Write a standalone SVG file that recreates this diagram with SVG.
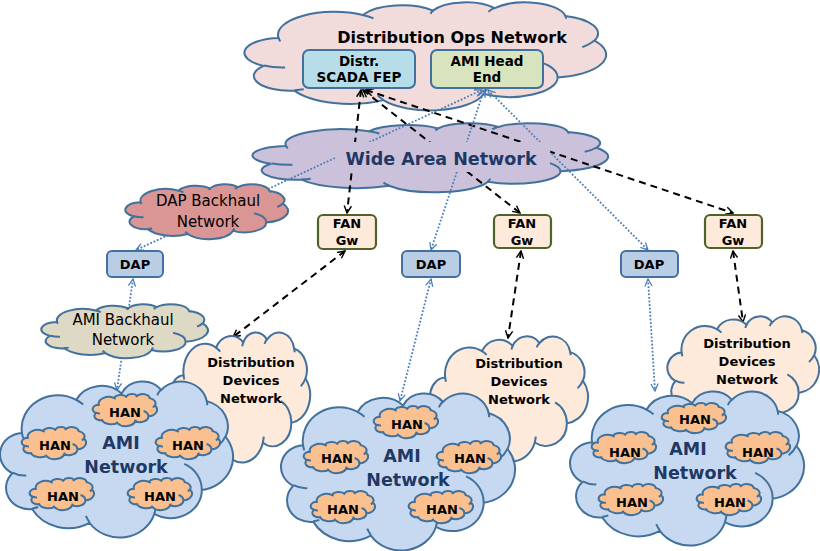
<svg xmlns="http://www.w3.org/2000/svg" width="820" height="551" viewBox="0 0 820 551">
<style>
text{font-family:"DejaVu Sans","Liberation Sans",sans-serif;text-anchor:middle;fill:#000}
.b13{font-size:13px;font-weight:bold}
.b135{font-size:13.5px;font-weight:bold}
.ttl{font-size:16px;font-weight:bold}
.nav{font-size:17.5px;font-weight:bold;fill:#1f3864}
.bh{font-size:15px}
.box{stroke:#41719c;stroke-width:2}
.fan{fill:#fdeada;stroke:#4f6228;stroke-width:2.2}
.dash{fill:none;stroke:#000;stroke-width:2;stroke-dasharray:7 5;marker-start:url(#ak);marker-end:url(#ak)}
.dot{fill:none;stroke:#4a7ebb;stroke-width:1.8;stroke-dasharray:1.8 1.8;marker-start:url(#ab);marker-end:url(#ab)}
</style>
<defs>
<symbol id="cloud" viewBox="0 0 100 100" preserveAspectRatio="none" overflow="visible">
<path d="M9.03,33.26 A15.63,21.27 0 0 1 32.42,12.04 A12.34,16.82 0 0 1 51.98,7.94 A10.10,13.76 0 0 1 69.06,5.74 A11.24,15.27 0 0 1 88.69,12.90 A12.34,16.84 0 0 1 96.80,35.78 A15.68,21.34 0 0 1 86.58,69.90 A13.39,18.21 0 0 1 66.09,85.20 A15.63,21.33 0 0 1 38.14,90.88 A17.87,24.41 0 0 1 13.43,82.09 A10.09,13.70 0 0 1 4.88,59.13 A10.06,13.76 0 0 1 9.03,33.26 Z" stroke="#41719c" stroke-width="2" vector-effect="non-scaling-stroke"/>
<path d="M10.86,60.59 A10.06,13.76 0 0 1 5.00,58.75 M16.04,80.78 A10.09,13.70 0 0 1 13.47,81.67 M38.14,90.49 A15.63,21.33 0 0 1 36.59,86.45 M66.73,80.44 A15.63,21.33 0 0 1 66.11,84.87 M79.00,53.13 A13.39,18.21 0 0 1 86.53,69.65 M96.75,35.54 A12.34,16.84 0 0 1 93.40,41.74 M88.71,12.56 A11.24,15.27 0 0 1 88.89,15.49 M67.31,9.15 A11.24,15.27 0 0 1 69.03,5.41 M51.25,10.93 A10.10,13.76 0 0 1 52.08,7.71 M32.41,12.02 A15.63,21.27 0 0 1 35.42,15.14 M9.55,36.55 A15.63,21.27 0 0 1 9.03,33.27" fill="none" stroke="#41719c" stroke-width="2" vector-effect="non-scaling-stroke"/>
</symbol>
<marker id="ak" viewBox="0 0 10 10" refX="9" refY="5" markerWidth="9" markerHeight="9" markerUnits="userSpaceOnUse" orient="auto-start-reverse">
<path d="M1,1 L9,5 L1,9" fill="none" stroke="#000" stroke-width="1.6"/>
</marker>
<marker id="ab" viewBox="0 0 10 10" refX="9" refY="5" markerWidth="9" markerHeight="9" markerUnits="userSpaceOnUse" orient="auto-start-reverse">
<path d="M1,1 L9,5 L1,9" fill="none" stroke="#4a7ebb" stroke-width="1.4"/>
</marker>
</defs>

<g id="ops-network">
<use href="#cloud" x="246" y="2" width="360" height="108" fill="#f2dcdb"/>
<text class="ttl" x="452" y="43">Distribution Ops Network</text>
</g>
<g id="wan">
<use href="#cloud" x="254" y="123" width="354" height="69" fill="#ccc1da"/>
</g>

<g id="connectors">
<line class="dash" x1="361" y1="90" x2="347" y2="213"/>
<line class="dash" x1="363" y1="90" x2="520" y2="213"/>
<line class="dash" x1="366" y1="90" x2="733" y2="213"/>
<line class="dash" x1="345" y1="251" x2="233" y2="337"/>
<line class="dash" x1="521" y1="251" x2="508" y2="338"/>
<line class="dash" x1="733" y1="251" x2="743" y2="322"/>
<line class="dot" x1="482" y1="90" x2="136" y2="250"/>
<line class="dot" x1="484" y1="90" x2="431" y2="250"/>
<line class="dot" x1="488" y1="90" x2="648" y2="250"/>
<line class="dot" x1="133" y1="279" x2="117" y2="390"/>
<line class="dot" x1="431" y1="279" x2="400" y2="401"/>
<line class="dot" x1="648" y1="279" x2="655" y2="391"/>
</g>

<g id="wan-label">
<rect x="335" y="142" width="215" height="30" fill="#ccc1da"/>
<text class="nav" x="441" y="165">Wide Area Network</text>
</g>

<g id="scada-fep">
<rect class="box" x="303" y="50" width="112" height="38" rx="6" fill="#b7dee8"/>
<text class="b135" x="359" y="66">Distr.</text>
<text class="b135" x="359" y="82">SCADA FEP</text>
</g>
<g id="ami-head-end">
<rect class="box" x="431" y="50" width="112" height="38" rx="6" fill="#d7e4bd"/>
<text class="b135" x="487" y="66">AMI Head</text>
<text class="b135" x="487" y="82">End</text>
</g>

<g id="dap-backhaul">
<use href="#cloud" x="126" y="184" width="162" height="55" fill="#d99694"/>
<text class="bh" x="208" y="206">DAP Backhaul</text>
<text class="bh" x="208" y="227">Network</text>
</g>
<g id="ami-backhaul">
<use href="#cloud" x="42" y="304" width="166" height="54" fill="#ddd9c4"/>
<text class="bh" x="123" y="325">AMI Backhaul</text>
<text class="bh" x="123" y="345">Network</text>
</g>

<g id="dap-1">
<rect class="box" x="107" y="251" width="56" height="26" rx="5" fill="#b9cde5"/>
<text class="b13" x="135" y="269">DAP</text>
</g>
<g id="dap-2">
<rect class="box" x="402" y="251" width="58" height="26" rx="5" fill="#b9cde5"/>
<text class="b13" x="431" y="269">DAP</text>
</g>
<g id="dap-3">
<rect class="box" x="621" y="251" width="57" height="26" rx="5" fill="#b9cde5"/>
<text class="b13" x="649" y="269">DAP</text>
</g>

<g id="fan-gw-1">
<rect class="fan" x="318" y="215" width="58" height="34" rx="5"/>
<text class="b13" x="347" y="228">FAN</text>
<text class="b13" x="347" y="245">Gw</text>
</g>
<g id="fan-gw-2">
<rect class="fan" x="494" y="215" width="57" height="33" rx="5"/>
<text class="b13" x="522" y="228">FAN</text>
<text class="b13" x="522" y="245">Gw</text>
</g>
<g id="fan-gw-3">
<rect class="fan" x="705" y="215" width="57" height="33" rx="5"/>
<text class="b13" x="733" y="228">FAN</text>
<text class="b13" x="733" y="245">Gw</text>
</g>

<g id="ddn-1">
<use href="#cloud" x="171" y="332" width="139" height="130" fill="#fdeada"/>
<text class="b13" x="251" y="367">Distribution</text>
<text class="b13" x="251" y="385">Devices</text>
<text class="b13" x="251" y="403">Network</text>
</g>
<g id="ddn-2">
<use href="#cloud" x="431" y="336" width="157" height="125" fill="#fdeada"/>
<text class="b13" x="519" y="368">Distribution</text>
<text class="b13" x="519" y="386">Devices</text>
<text class="b13" x="519" y="404">Network</text>
</g>
<g id="ddn-3">
<use href="#cloud" x="668" y="316" width="151" height="110" fill="#fdeada"/>
<text class="b13" x="747" y="348">Distribution</text>
<text class="b13" x="747" y="366">Devices</text>
<text class="b13" x="747" y="384">Network</text>
</g>

<g id="ami-network-1">
<use href="#cloud" x="1" y="381" width="232" height="156" fill="#c6d9f1"/>
<text class="nav" x="121" y="449">AMI</text>
<text class="nav" x="126" y="473">Network</text>
<g id="han-1a"><use href="#cloud" x="93" y="394" width="64" height="32" fill="#fac090"/><text class="b13" x="125" y="417">HAN</text></g>
<g id="han-1b"><use href="#cloud" x="22" y="427" width="64" height="32" fill="#fac090"/><text class="b13" x="55" y="450">HAN</text></g>
<g id="han-1c"><use href="#cloud" x="156" y="427" width="64" height="32" fill="#fac090"/><text class="b13" x="188" y="450">HAN</text></g>
<g id="han-1d"><use href="#cloud" x="30" y="478" width="64" height="32" fill="#fac090"/><text class="b13" x="63" y="501">HAN</text></g>
<g id="han-1e"><use href="#cloud" x="128" y="478" width="64" height="32" fill="#fac090"/><text class="b13" x="160" y="501">HAN</text></g>
</g>
<g id="ami-network-2">
<use href="#cloud" x="282" y="393" width="233" height="157" fill="#c6d9f1"/>
<text class="nav" x="402" y="462">AMI</text>
<text class="nav" x="408" y="486">Network</text>
<g id="han-2a"><use href="#cloud" x="374" y="406" width="64" height="32" fill="#fac090"/><text class="b13" x="407" y="429">HAN</text></g>
<g id="han-2b"><use href="#cloud" x="304" y="441" width="64" height="32" fill="#fac090"/><text class="b13" x="337" y="463">HAN</text></g>
<g id="han-2c"><use href="#cloud" x="437" y="441" width="64" height="32" fill="#fac090"/><text class="b13" x="470" y="463">HAN</text></g>
<g id="han-2d"><use href="#cloud" x="311" y="491" width="64" height="32" fill="#fac090"/><text class="b13" x="343" y="514">HAN</text></g>
<g id="han-2e"><use href="#cloud" x="409" y="491" width="64" height="32" fill="#fac090"/><text class="b13" x="442" y="514">HAN</text></g>
</g>
<g id="ami-network-3">
<use href="#cloud" x="571" y="391" width="233" height="154" fill="#c6d9f1"/>
<text class="nav" x="688" y="455">AMI</text>
<text class="nav" x="695" y="479">Network</text>
<g id="han-3a"><use href="#cloud" x="662" y="403" width="64" height="30" fill="#fac090"/><text class="b13" x="695" y="424">HAN</text></g>
<g id="han-3b"><use href="#cloud" x="592" y="432" width="64" height="31" fill="#fac090"/><text class="b13" x="625" y="457">HAN</text></g>
<g id="han-3c"><use href="#cloud" x="726" y="432" width="64" height="31" fill="#fac090"/><text class="b13" x="758" y="457">HAN</text></g>
<g id="han-3d"><use href="#cloud" x="599" y="484" width="64" height="31" fill="#fac090"/><text class="b13" x="632" y="507">HAN</text></g>
<g id="han-3e"><use href="#cloud" x="697" y="484" width="64" height="31" fill="#fac090"/><text class="b13" x="730" y="507">HAN</text></g>
</g>
</svg>
